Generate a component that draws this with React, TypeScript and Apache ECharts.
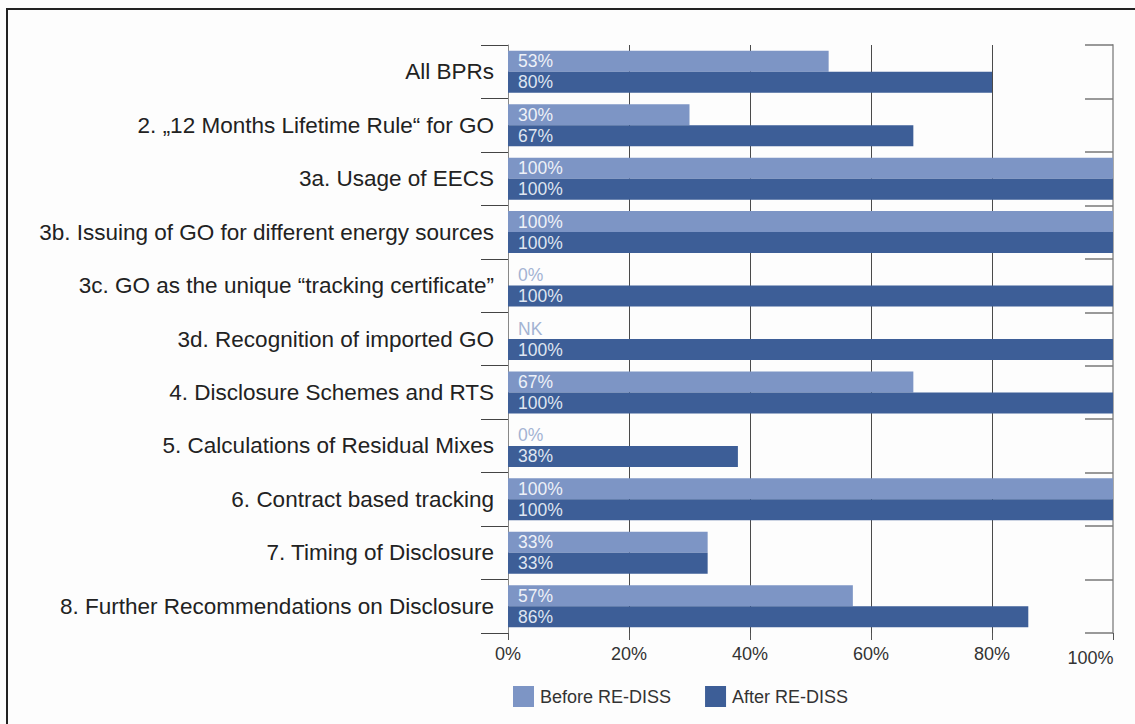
import React, { useEffect, useRef } from "react";
import * as echarts from "echarts";

const categories = [
  "All BPRs",
  "2. „12 Months Lifetime Rule“ for GO",
  "3a. Usage of EECS",
  "3b. Issuing of GO for different energy sources",
  "3c. GO as the unique “tracking certificate”",
  "3d. Recognition of imported GO",
  "4. Disclosure Schemes and RTS",
  "5. Calculations of Residual Mixes",
  "6. Contract based tracking",
  "7. Timing of Disclosure",
  "8. Further Recommendations on Disclosure",
];

// null = "NK" (not known)
const beforeValues: (number | null)[] = [53, 30, 100, 100, 0, null, 67, 0, 100, 33, 57];
const afterValues: number[] = [80, 67, 100, 100, 100, 100, 100, 38, 100, 33, 86];

const LIGHT = "#7d95c5";
const DARK = "#3d5e97";
const ZERO_LABEL = "#a3b3d3";

export default function App() {
  const ref = useRef<HTMLDivElement>(null);

  useEffect(() => {
    if (!ref.current) return;
    const chart = echarts.init(ref.current, undefined, { renderer: "svg" });

    const beforeData = beforeValues.map((v) => {
      if (v === null) {
        return { value: 0, label: { formatter: "NK", color: ZERO_LABEL } };
      }
      if (v === 0) {
        return { value: 0, label: { color: ZERO_LABEL } };
      }
      return v;
    });

    chart.setOption({
      animation: false,
      backgroundColor: "#fdfdfd",
      textStyle: { fontFamily: "'Liberation Sans', Arial, sans-serif" },
      graphic: [
        {
          type: "rect",
          shape: { x: 7, y: 9, width: 1150, height: 740 },
          style: { fill: "none", stroke: "#222", lineWidth: 2 },
          silent: true,
        },
      ],
      legend: {
        left: 508,
        top: 681,
        itemWidth: 21,
        itemHeight: 21,
        itemGap: 34,
        icon: "rect",
        textStyle: { fontSize: 18, color: "#333", padding: [0, 0, 0, 1] },
        data: ["Before RE-DISS", "After RE-DISS"],
      },
      grid: { left: 508, right: 22, top: 45, height: 588, containLabel: false },
      xAxis: {
        type: "value",
        min: 0,
        max: 100,
        interval: 20,
        axisLine: { show: false },
        axisTick: { show: true, length: 7, lineStyle: { color: "#555" } },
        splitLine: { show: true, lineStyle: { color: "#4a4a4a", width: 1 } },
        axisLabel: {
          margin: 12,
          fontSize: 18,
          color: "#333",
          formatter: (v: number) => (v === 100 ? "{last|" + v + "%}" : v + "%"),
          rich: {
            last: { fontSize: 18, color: "#333", padding: [4, 45, 0, 0] },
          },
        },
      },
      yAxis: [
        {
          type: "category",
          data: categories,
          inverse: true,
          axisLine: { show: true, lineStyle: { color: "#888", width: 1 } },
          axisTick: { show: true, length: 27, lineStyle: { color: "#444" } },
          axisLabel: { margin: 14, fontSize: 22.5, color: "#222" },
        },
        {
          type: "category",
          data: categories,
          inverse: true,
          position: "right",
          axisLine: { show: true, lineStyle: { color: "#aaa", width: 2 } },
          axisTick: { show: true, inside: true, length: 28, lineStyle: { color: "#777", width: 1.5 } },
          axisLabel: { show: false },
        },
      ],
      series: [
        {
          name: "Before RE-DISS",
          type: "bar",
          data: beforeData,
          barWidth: 21,
          barGap: "0%",
          itemStyle: { color: LIGHT },
          label: {
            show: true,
            position: "insideLeft",
            distance: 10,
            fontSize: 17.5,
            color: "#eef1f8",
            formatter: (p: any) => p.value + "%",
          },
        },
        {
          name: "After RE-DISS",
          type: "bar",
          data: afterValues,
          barWidth: 21,
          barGap: "0%",
          itemStyle: { color: DARK },
          label: {
            show: true,
            position: "insideLeft",
            distance: 10,
            fontSize: 17.5,
            color: "#dfe5f1",
            formatter: (p: any) => p.value + "%",
          },
        },
      ],
    });

    return () => chart.dispose();
  }, []);

  return (
    <div
      ref={ref}
      style={{ position: "fixed", left: 0, top: 0, width: 1135, height: 724 }}
    />
  );
}
